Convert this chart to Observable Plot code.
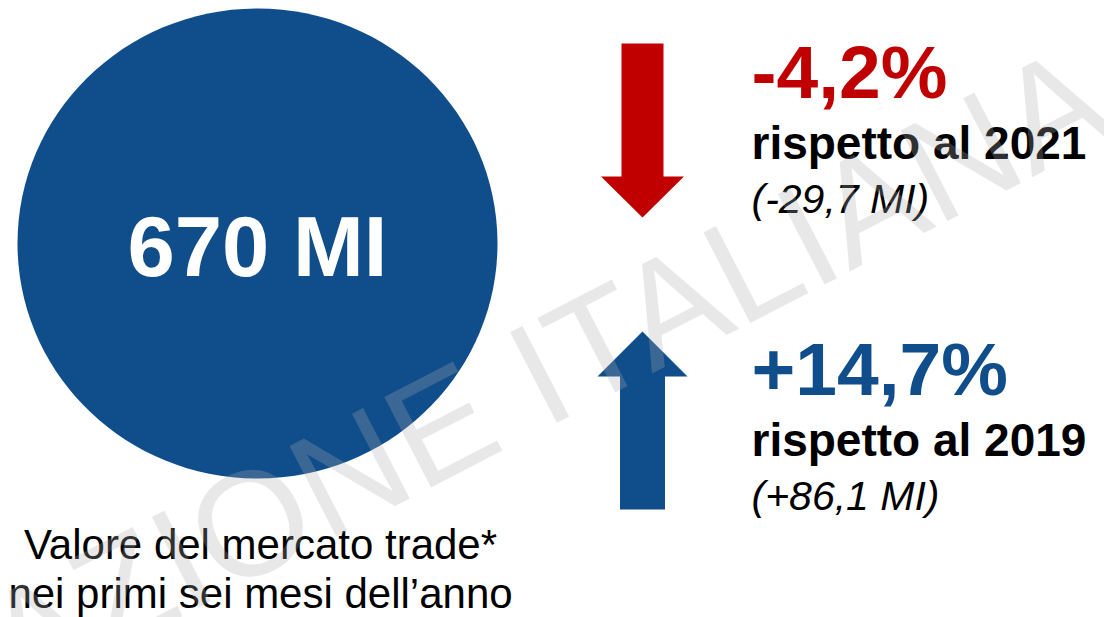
<!DOCTYPE html>
<html>
<head>
<meta charset="utf-8">
<script src="https://cdn.jsdelivr.net/npm/d3@7"></script>
<script src="https://cdn.jsdelivr.net/npm/@observablehq/plot@0.6"></script>
<style>
  html, body { margin: 0; padding: 0; background: #ffffff; }
  #chart { width: 1104px; height: 617px; overflow: hidden; }
</style>
</head>
<body>
<div id="chart"></div>
<script>
// ---- Data ----
const totalValue = ["670 MI"];
const captionLines = ["Valore del mercato trade*", "nei primi sei mesi dell’anno"];
const comparisonYears = ["2021", "2019"];
const changePct = ["-4,2%", "+14,7%"];
const changeAbs = ["(-29,7 MI)", "(+86,1 MI)"];
const direction = ["down", "up"];
const watermarkText = ["AZIONE ITALIANA"];

// ---- Styling / layout ----
const W = 1104, H = 617;
const BLUE = "#0F4D8B";
const RED = "#C00000";
const FONT = "'Liberation Sans', Arial, Helvetica, sans-serif";

const rows = comparisonYears.map((year, i) => ({
  row: i, year, pct: changePct[i], abs: changeAbs[i], dir: direction[i],
  label: "rispetto al " + year
}));

// custom symbols (pixel-sized shapes; size ignored)
function ellipseSymbol(rx, ry) {
  const k = 0.5522847;
  return {
    draw(ctx) {
      ctx.moveTo(rx, 0);
      ctx.bezierCurveTo(rx, ry * k, rx * k, ry, 0, ry);
      ctx.bezierCurveTo(-rx * k, ry, -rx, ry * k, -rx, 0);
      ctx.bezierCurveTo(-rx, -ry * k, -rx * k, -ry, 0, -ry);
      ctx.bezierCurveTo(rx * k, -ry, rx, -ry * k, rx, 0);
      ctx.closePath();
    }
  };
}
function arrowSymbol(dir, shaftHalf, headHalf, headLen, halfLen) {
  const s = dir === "down" ? 1 : -1;
  return {
    draw(ctx) {
      ctx.moveTo(-shaftHalf, -s * halfLen);
      ctx.lineTo(shaftHalf, -s * halfLen);
      ctx.lineTo(shaftHalf, s * (halfLen - headLen));
      ctx.lineTo(headHalf, s * (halfLen - headLen));
      ctx.lineTo(0, s * halfLen);
      ctx.lineTo(-headHalf, s * (halfLen - headLen));
      ctx.lineTo(-shaftHalf, s * (halfLen - headLen));
      ctx.closePath();
    }
  };
}
const arrowShapes = {
  down: arrowSymbol("down", 21, 41.5, 41, 87),
  up: arrowSymbol("up", 22.5, 45, 45, 89)
};
const arrowY = {down: 130, up: 420};
const arrowColor = {down: RED, up: BLUE};
const rowOffset = [0, 297];
const textX = 751;

const arrowMarks = ["down", "up"].map(dir =>
  Plot.dot(rows.filter(d => d.dir === dir), {
    x: () => 642, y: d => arrowY[d.dir], r: 1,
    symbol: arrowShapes[dir], fill: arrowColor[dir], stroke: "none"
  })
);

const chart = Plot.plot({
  width: W,
  height: H,
  margin: 0,
  x: {domain: [0, W], range: [0, W], axis: null},
  y: {domain: [0, H], range: [0, H], axis: null},
  style: {fontFamily: FONT, background: "#ffffff", overflow: "hidden"},
  marks: [
    // big circle
    Plot.dot(totalValue, {x: () => 257, y: () => 243, r: 1, symbol: ellipseSymbol(240, 235), fill: BLUE, stroke: "none"}),
    Plot.text(totalValue, {x: () => 257, y: () => 275, text: d => d, fill: "#ffffff", fontSize: 85, fontWeight: "bold", textAnchor: "middle", lineAnchor: "bottom"}),
    // caption
    Plot.text(captionLines, {x: () => 260, y: (d, i) => 558 + i * 49, text: d => d, fill: "#000000", fontSize: 42, textAnchor: "middle", lineAnchor: "bottom"}),
    // arrows
    ...arrowMarks,
    // percentages
    Plot.text(rows, {x: () => textX, y: d => 97 + rowOffset[d.row], text: "pct", fill: d => arrowColor[d.dir], fontSize: 75, fontWeight: "bold", textAnchor: "start", lineAnchor: "bottom"}),
    Plot.text(rows, {x: () => textX, y: d => 158 + rowOffset[d.row], text: "label", fill: "#000000", fontSize: 46, fontWeight: "bold", textAnchor: "start", lineAnchor: "bottom"}),
    Plot.text(rows, {x: () => textX, y: d => 212 + rowOffset[d.row], text: "abs", fill: "#000000", fontSize: 41, fontStyle: "italic", textAnchor: "start", lineAnchor: "bottom"}),
    // watermark
    Plot.text(watermarkText, {x: () => 18, y: () => 700, text: d => d, rotate: -27.3, fontSize: 148, fill: "#aeaeae", fillOpacity: 0.28, textAnchor: "start", lineAnchor: "bottom"})
  ]
});

document.getElementById("chart").appendChild(chart);
</script>
</body>
</html>
